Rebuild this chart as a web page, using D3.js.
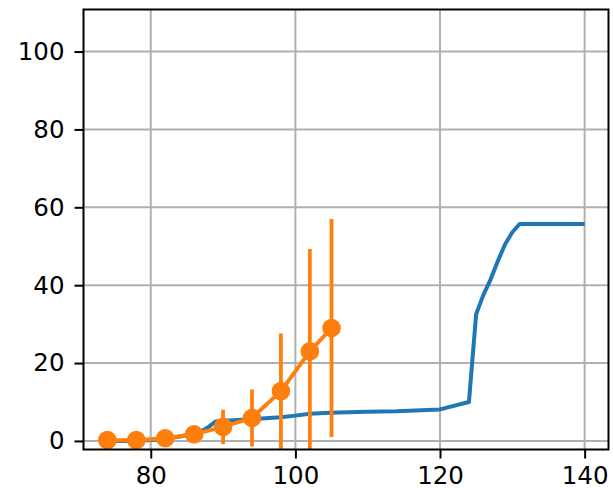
<!DOCTYPE html>
<html>
<head>
<meta charset="utf-8">
<script src="https://cdn.jsdelivr.net/npm/d3@7"></script>
<style>
  html, body { margin: 0; padding: 0; background: #fff; }
  svg text { font-family: "DejaVu Sans", sans-serif; }
</style>
</head>
<body>
<div id="chart"></div>
<script>
// Blue line series
const blueX = [74, 78, 82, 86, 87, 88, 89, 90, 94, 98, 100, 102, 104, 106, 110, 114, 120, 124, 125, 126, 127, 128, 129, 130, 131, 140];
const blueY = [0, 0, 0.5, 1.8, 2.5, 3.6, 5.0, 5.2, 5.6, 6.1, 6.5, 7.0, 7.2, 7.3, 7.5, 7.6, 8.1, 10.0, 32.6, 37.5, 41.5, 46.2, 50.5, 53.6, 55.7, 55.7];
// Orange points with symmetric error bars
const orangeX = [74, 78, 82, 86, 90, 94, 98, 102, 105];
const orangeY = [0.2, 0.2, 0.7, 1.7, 3.6, 5.9, 12.8, 23.0, 29.0];
const orangeErr = [0, 0, 0, 0, 4.4, 7.3, 14.8, 26.3, 28.0];
// Tick labels
const xTicks = [80, 100, 120, 140];
const yTicks = [0, 20, 40, 60, 80, 100];

const W = 613, H = 493;
const m = { left: 83.5, top: 9.5, right: 608.5, bottom: 449.5 };

const svg = d3.select("#chart").append("svg").attr("width", W).attr("height", H);

const x = d3.scaleLinear().domain([70.7, 143.3]).range([m.left, m.right]);
const y = d3.scaleLinear().domain([-2.2, 110.8]).range([m.bottom, m.top]);

const clipId = "plotclip";
svg.append("clipPath").attr("id", clipId).append("rect")
  .attr("x", m.left).attr("y", m.top).attr("width", m.right - m.left).attr("height", m.bottom - m.top);

// Grid
const grid = svg.append("g");
grid.selectAll("line.gx").data(xTicks).join("line")
  .attr("x1", d => x(d)).attr("x2", d => x(d)).attr("y1", m.top).attr("y2", m.bottom)
  .attr("stroke", "#b0b0b0").attr("stroke-width", 2);
grid.selectAll("line.gy").data(yTicks).join("line")
  .attr("y1", d => y(d)).attr("y2", d => y(d)).attr("x1", m.left).attr("x2", m.right)
  .attr("stroke", "#b0b0b0").attr("stroke-width", 2);

const plot = svg.append("g").attr("clip-path", `url(#${clipId})`);

// Blue line
const blueData = blueX.map((d, i) => [d, blueY[i]]);
plot.append("path").datum(blueData)
  .attr("d", d3.line().x(d => x(d[0])).y(d => y(d[1])))
  .attr("fill", "none").attr("stroke", "#1f77b4").attr("stroke-width", 4)
  .attr("stroke-linejoin", "round");

// Orange errorbars
const orangeData = orangeX.map((d, i) => ({ x: d, y: orangeY[i], e: orangeErr[i] }));
plot.selectAll("line.err").data(orangeData.filter(d => d.e > 0)).join("line")
  .attr("x1", d => x(d.x)).attr("x2", d => x(d.x))
  .attr("y1", d => y(d.y - d.e)).attr("y2", d => y(d.y + d.e))
  .attr("stroke", "#ff7f0e").attr("stroke-width", 3.8);

plot.append("path").datum(orangeData)
  .attr("d", d3.line().x(d => x(d.x)).y(d => y(d.y)))
  .attr("fill", "none").attr("stroke", "#ff7f0e").attr("stroke-width", 4)
  .attr("stroke-linejoin", "round");

plot.selectAll("circle").data(orangeData).join("circle")
  .attr("cx", d => x(d.x)).attr("cy", d => y(d.y)).attr("r", 9.3)
  .attr("fill", "#ff7f0e");

// Axes
const xAxis = d3.axisBottom(x).tickValues(xTicks).tickFormat(d3.format("d")).tickSize(9).tickPadding(8);
const yAxis = d3.axisLeft(y).tickValues(yTicks).tickFormat(d3.format("d")).tickSize(9).tickPadding(10);

const gx = svg.append("g").attr("transform", `translate(0,${m.bottom})`).call(xAxis);
const gy = svg.append("g").attr("transform", `translate(${m.left},0)`).call(yAxis);
[gx, gy].forEach(g => {
  g.select(".domain").remove();
  g.selectAll(".tick line").attr("stroke", "#000").attr("stroke-width", 2);
  g.selectAll(".tick text").attr("fill", "#000").style("font-size", "24.5px")
    .style("font-family", "'DejaVu Sans', sans-serif");
});

// Frame
svg.append("rect").attr("x", m.left).attr("y", m.top)
  .attr("width", m.right - m.left).attr("height", m.bottom - m.top)
  .attr("fill", "none").attr("stroke", "#000").attr("stroke-width", 2);
</script>
</body>
</html>
